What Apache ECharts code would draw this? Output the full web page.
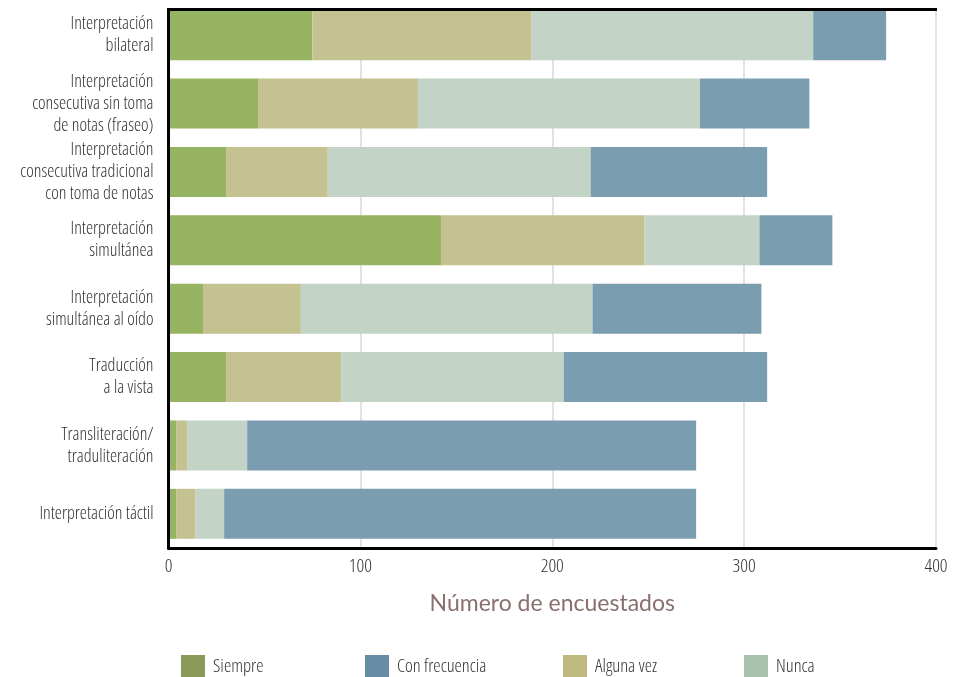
<!DOCTYPE html>
<html><head><meta charset="utf-8">
<script src="https://cdn.jsdelivr.net/npm/echarts@6/dist/echarts.min.js"></script>
<style>html,body{margin:0;padding:0;background:#fff}#c{width:961px;height:677px}</style>
</head><body><div id="c"></div>
<script>
const categories = [
  "Interpretación\nbilateral",
  "Interpretación\nconsecutiva sin toma\nde notas (fraseo)",
  "Interpretación\nconsecutiva tradicional\ncon toma de notas",
  "Interpretación\nsimultánea",
  "Interpretación\nsimultánea al oído",
  "Traducción\na la vista",
  "Transliteración/\ntraduliteración",
  "Interpretación táctil"
];
const siempre       = [75, 47, 30, 142, 18, 30, 4, 4];
const algunaVez     = [114, 83, 53, 106, 51, 60, 6, 10];
const nunca         = [147, 147, 137, 60, 152, 116, 31, 15];
const conFrecuencia = [38, 57, 92, 38, 88, 106, 234, 246];
const xTicks = [0, 100, 200, 300, 400];
const legendNames = ["Siempre", "Con frecuencia", "Alguna vez", "Nunca"];

const barColors = {"Siempre":"#96b461","Alguna vez":"#c4c290","Nunca":"#c3d4c6","Con frecuencia":"#7a9db0"};
const legendColors = {"Siempre":"#8b9a58","Con frecuencia":"#688ca5","Alguna vez":"#beb97d","Nunca":"#a8c3ad"};
const legendLeft = [181, 365, 563, 744];

// light condensed face (closest to the reference's condensed geometric sans)
const COND = {fontStyle:'normal', fontWeight:'300 condensed', fontFamily:'"Open Sans"'};

function mkSeries(name, data){
  return {name, type:'bar', stack:'t', data, barWidth:50,
    itemStyle:{color:barColors[name]}, emphasis:{disabled:true}, z:2};
}

const chart = echarts.init(document.getElementById('c'), null, {renderer:'canvas'});
const gl = 168.5, gr = 936;
chart.setOption({
  animation:false,
  backgroundColor:'#fff',
  grid:{left:gl, right:961-gr, top:1, height:547, containLabel:false, outerBoundsMode:'none'},
  xAxis:{type:'value', min:xTicks[0], max:xTicks[xTicks.length-1], interval:100,
    axisLine:{show:true, lineStyle:{color:'#000', width:3}},
    axisTick:{show:false},
    splitLine:{show:true, lineStyle:{color:'#d9d9d9', width:1.5}},
    axisLabel:Object.assign({margin:9, fontSize:19, color:'#333'}, COND),
    name:'Número de encuestados', nameLocation:'middle', nameGap:44,
    nameTextStyle:{fontSize:23, color:'#8a6f6f', fontFamily:'Lato', fontWeight:'normal'}
  },
  yAxis:{type:'category', data:categories, inverse:true, z:3,
    axisLine:{show:true, lineStyle:{color:'#000', width:3}},
    axisTick:{show:false}, splitLine:{show:false},
    axisLabel:Object.assign({margin:15, fontSize:18, lineHeight:22, color:'#333', align:'right'}, COND)
  },
  legend: legendNames.map((n,i)=>({
    left:legendLeft[i], top:655, padding:0, itemWidth:24, itemHeight:24, icon:'rect',
    data:[{name:n, itemStyle:{color:legendColors[n]}}],
    textStyle:Object.assign({fontSize:18.5, color:'#333', padding:[0,0,0,3]}, COND),
    selectedMode:false
  })),
  series:[
    mkSeries('Siempre', siempre),
    mkSeries('Alguna vez', algunaVez),
    mkSeries('Nunca', nunca),
    mkSeries('Con frecuencia', conFrecuencia)
  ],
  graphic:[
    {type:'rect', z:100, shape:{x:150, y:0, width:811, height:8}, style:{fill:'#fff'}},
    {type:'line', z:101, shape:{x1:gl-1.5, y1:9.5, x2:gr+1, y2:9.5}, style:{stroke:'#000', lineWidth:3}}
  ]
});
</script>
</body></html>
